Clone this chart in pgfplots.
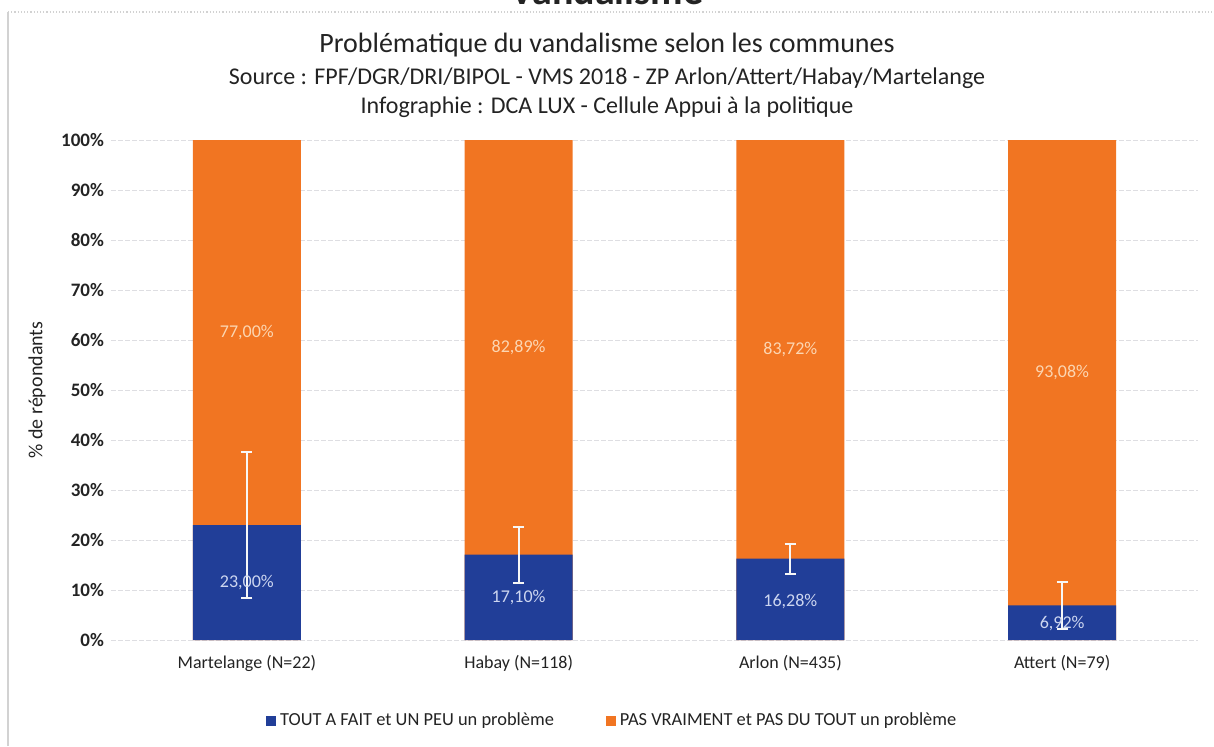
\documentclass[border=0pt]{standalone}
\usepackage{fontspec}
\setmainfont{Carlito}
\usepackage{pgfplots}
\pgfplotsset{compat=1.18}
\definecolor{cblue}{RGB}{33,62,152}
\definecolor{corange}{RGB}{241,117,34}
\definecolor{txt}{RGB}{35,35,35}
\definecolor{gridc}{RGB}{222,222,226}
\definecolor{olab}{RGB}{252,214,178}
\definecolor{blab}{RGB}{205,214,240}
\begin{document}
\begin{tikzpicture}[x=1pt,y=1pt]
\begin{axis}[
  at={(55.5pt,53pt)}, anchor=south west,
  scale only axis, width=543.5pt, height=250pt,
  xmin=-0.5, xmax=3.5, ymin=0, ymax=100,
  xtick={0,1,2,3},
  xticklabels={Martelange (N=22), Habay (N=118), Arlon (N=435), Attert (N=79)},
  ytick={0,10,...,100},
  /pgf/number format/assume math mode=true,
  yticklabel={\pgfmathprintnumber{\tick}\%},
  ymajorgrids, grid style={gridc, line width=0.5pt, dash pattern=on 2.5pt off 1pt},
  axis line style={draw=none}, major tick length=0pt,
  yticklabel style={font=\bfseries\fontsize{9.5}{11}\selectfont, color=txt},
  xticklabel style={font=\fontsize{9}{11}\selectfont, color=txt, yshift=-4pt},
  ylabel={\% de répondants},
  ylabel style={font=\fontsize{10}{12}\selectfont, color=txt, at={(axis description cs:-0.068,0.5)}, anchor=center},
  legend style={draw=none, at={(0.462,-0.162)}, anchor=center, legend columns=2,
    font=\fontsize{9.2}{11}\selectfont, text=txt,
    /tikz/every even column/.append style={column sep=24pt}},
  clip=false,
]
\addlegendimage{legend image code/.code={\fill[cblue] (0pt,-2.3pt) rectangle (4.6pt,2.3pt);}}
\addlegendentry{TOUT A FAIT et UN PEU un problème}
\addlegendimage{legend image code/.code={\fill[corange] (0pt,-2.3pt) rectangle (4.6pt,2.3pt);}}
\addlegendentry{PAS VRAIMENT et PAS DU TOUT un problème}
\addplot[ybar, bar width=54pt, bar shift=0pt, fill=corange, draw=none, forget plot]
  coordinates {(0,100) (1,100) (2,100) (3,100)};
\addplot[ybar, bar width=54pt, bar shift=0pt, fill=cblue, draw=none, forget plot,
  error bars/.cd, y dir=both, y explicit,
  error bar style={line width=1pt, color=white!94!gray},
  error mark options={rotate=90, mark size=2.8pt, line width=1pt, color=white!94!gray}]
  table[x=x, y=y, y error=e] {
x y e
0 23.00 14.6
1 17.10 5.6
2 16.28 3.0
3 6.92 4.7
};
\addplot[only marks, mark=none, forget plot, nodes near coords, point meta=explicit symbolic,
  nodes near coords style={anchor=center, font=\fontsize{9}{11}\selectfont, text=olab}]
  table[x=x, y=y, meta=lab] {
x y lab
0 61.50 77,00\%
1 58.55 82,89\%
2 58.14 83,72\%
3 53.46 93,08\%
};
\addplot[only marks, mark=none, forget plot, nodes near coords, point meta=explicit symbolic,
  nodes near coords style={anchor=center, font=\fontsize{9}{11}\selectfont, text=blab}]
  table[x=x, y=y, meta=lab] {
x y lab
0 11.50 23,00\%
1 8.55 17,10\%
2 7.80 16,28\%
3 3.20 6,92\%
};
\end{axis}
\draw[gray!35, line width=0.8pt] (4,0) -- (4,367);
\draw[gray!35, line width=0.6pt, densely dotted] (4,367) -- (607,367);
\node[font=\bfseries\fontsize{20}{24}\selectfont, text=txt, anchor=base] at (303.5,370.5) {Vandalisme};
\node[font=\fontsize{14}{17}\selectfont, text=txt] at (303.5,350.5) {Problématique du vandalisme selon les communes};
\node[font=\fontsize{12}{14}\selectfont, text=txt] at (303.5,334) {Source : FPF/DGR/DRI/BIPOL - VMS 2018 - ZP Arlon/Attert/Habay/Martelange};
\node[font=\fontsize{12}{14}\selectfont, text=txt] at (303.5,319.5) {Infographie : DCA LUX - Cellule Appui à la politique};
\pgfresetboundingbox
\useasboundingbox (0,0) rectangle (607,373);
\end{tikzpicture}
\end{document}
